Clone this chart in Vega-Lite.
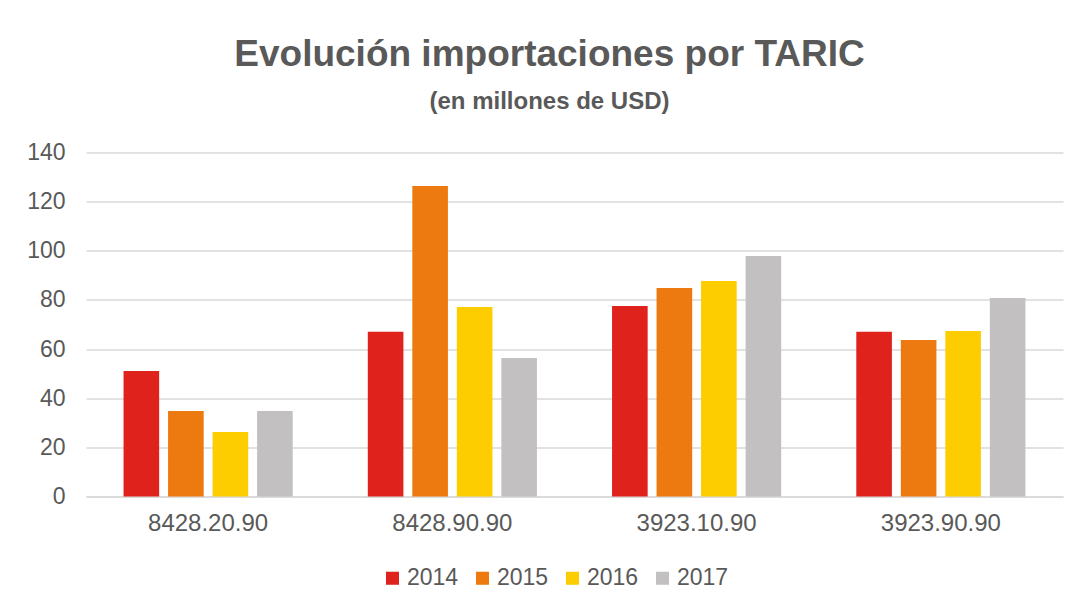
{
  "$schema": "https://vega.github.io/schema/vega-lite/v6.json",
  "width": 977,
  "height": 344,
  "autosize": {"type": "none"},
  "padding": {"left": 86, "right": 19, "top": 152.5, "bottom": 109.5},
  "background": "white",
  "title": {
    "text": "Evolución importaciones por TARIC",
    "subtitle": "(en millones de USD)",
    "anchor": "middle",
    "frame": "group",
    "dx": -25,
    "offset": 27,
    "font": "Liberation Sans",
    "fontSize": 37,
    "fontWeight": "bold",
    "color": "#595959",
    "subtitleFont": "Liberation Sans",
    "subtitleFontSize": 24,
    "subtitleFontWeight": "bold",
    "subtitleColor": "#595959",
    "subtitlePadding": 16
  },
  "data": {
    "values": [
      {"taric": "8428.20.90", "year": "2014", "value": 51.1},
      {"taric": "8428.20.90", "year": "2015", "value": 34.8},
      {"taric": "8428.20.90", "year": "2016", "value": 26.3},
      {"taric": "8428.20.90", "year": "2017", "value": 34.8},
      {"taric": "8428.90.90", "year": "2014", "value": 67.0},
      {"taric": "8428.90.90", "year": "2015", "value": 126.4},
      {"taric": "8428.90.90", "year": "2016", "value": 77.1},
      {"taric": "8428.90.90", "year": "2017", "value": 56.4},
      {"taric": "3923.10.90", "year": "2014", "value": 77.5},
      {"taric": "3923.10.90", "year": "2015", "value": 84.9},
      {"taric": "3923.10.90", "year": "2016", "value": 87.7},
      {"taric": "3923.10.90", "year": "2017", "value": 97.9},
      {"taric": "3923.90.90", "year": "2014", "value": 67.0},
      {"taric": "3923.90.90", "year": "2015", "value": 63.7},
      {"taric": "3923.90.90", "year": "2016", "value": 67.4},
      {"taric": "3923.90.90", "year": "2017", "value": 80.8}
    ]
  },
  "mark": {"type": "bar"},
  "encoding": {
    "x": {
      "field": "taric",
      "type": "nominal",
      "sort": null,
      "scale": {"paddingInner": 0.271, "paddingOuter": 0.1355},
      "axis": {
        "title": null,
        "labelAngle": 0,
        "labelFont": "Liberation Sans",
        "labelFontSize": 24,
        "labelColor": "#595959",
        "labelPadding": 15,
        "ticks": false,
        "domainColor": "#d9d9d9",
        "domainWidth": 1.5,
        "grid": false
      }
    },
    "xOffset": {
      "field": "year",
      "type": "nominal",
      "scale": {"paddingInner": 0.2, "paddingOuter": 0.1}
    },
    "y": {
      "field": "value",
      "type": "quantitative",
      "scale": {"domain": [0, 140]},
      "axis": {
        "title": null,
        "values": [0, 20, 40, 60, 80, 100, 120, 140],
        "labelFont": "Liberation Sans",
        "labelFontSize": 23,
        "labelColor": "#595959",
        "labelPadding": 21,
        "ticks": false,
        "domain": false,
        "gridColor": "#d9d9d9",
        "gridWidth": 1.5
      }
    },
    "color": {
      "field": "year",
      "type": "nominal",
      "scale": {
        "domain": ["2014", "2015", "2016", "2017"],
        "range": ["#e0221c", "#ec7a10", "#fdcd00", "#c2c0c0"]
      },
      "legend": {
        "title": null,
        "orient": "none",
        "direction": "horizontal",
        "legendX": 295,
        "legendY": 414,
        "symbolType": "square",
        "symbolSize": 170,
        "symbolStrokeWidth": 0,
        "labelFont": "Liberation Sans",
        "labelFontSize": 23,
        "labelColor": "#595959",
        "labelOffset": 3,
        "columnPadding": 12
      }
    }
  },
  "config": {
    "view": {"stroke": null}
  }
}
